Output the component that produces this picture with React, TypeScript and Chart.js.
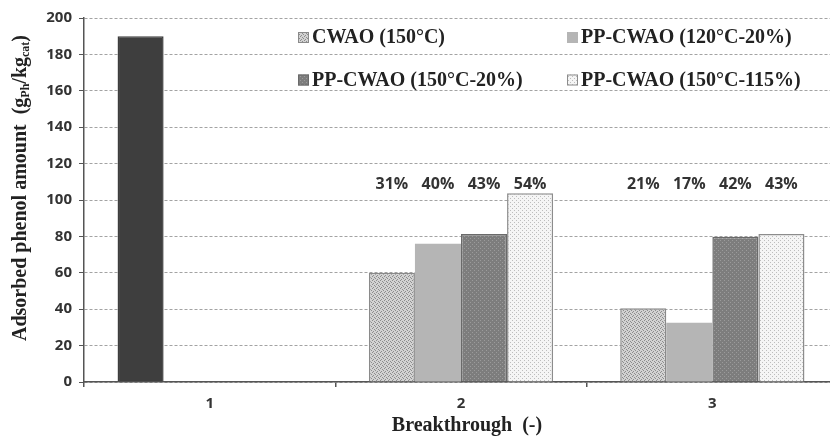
import React, { useEffect, useRef } from "react";
import { Chart, registerables } from "chart.js";

Chart.register(...registerables);

const categories = ["1", "2", "3"];
const seriesNames = [
  "CWAO (150°C)",
  "PP-CWAO (120°C-20%)",
  "PP-CWAO (150°C-20%)",
  "PP-CWAO (150°C-115%)",
];
const cwao = [190, 60, 40.5];
const pp120_20 = [null, 76, 32.6];
const pp150_20 = [null, 81.3, 79.8];
const pp150_115 = [null, 103.7, 81.3];
const pctCwao = [null, "31%", "21%"];
const pctPp120_20 = [null, "40%", "17%"];
const pctPp150_20 = [null, "43%", "42%"];
const pctPp150_115 = [null, "54%", "43%"];
const yTicksMin = 0;
const yTicksMax = 200;
const yTicksStep = 20;

const SANS = '"Open Sans", "DejaVu Sans", sans-serif';
const SERIF = '"Liberation Serif", "DejaVu Serif", serif';

function makePattern(bg: string, dot: string, size: number, dots: number[][]) {
  const c = document.createElement("canvas");
  c.width = size;
  c.height = size;
  const g = c.getContext("2d")!;
  g.fillStyle = bg;
  g.fillRect(0, 0, size, size);
  g.fillStyle = dot;
  dots.forEach(([x, y]) => g.fillRect(x, y, 1, 1));
  return g.createPattern(c, "repeat")!;
}

export default function App() {
  const ref = useRef<HTMLCanvasElement | null>(null);

  useEffect(() => {
    const canvas = ref.current!;
    const pCwao = makePattern("#d2d2d2", "#8c8c8c", 4, [[0, 0], [2, 1], [1, 3], [3, 2]]);
    const pLight = "#b5b5b5";
    const pDark = makePattern("#7d7d7d", "#9b9b9b", 4, [[0, 0], [2, 2]]);
    const pDots = makePattern("#f5f5f5", "#bdbdbd", 4, [[0, 0], [2, 2]]);
    const DARK = "#3e3e3e";

    const fills = [pCwao, pLight, pDark, pDots];
    const borders = ["#8a8a8a", "rgba(0,0,0,0)", "#6a6a6a", "#8c8c8c"];
    const pctLabels = [pctCwao, pctPp120_20, pctPp150_20, pctPp150_115];

    const datasets = [
      {
        label: seriesNames[0],
        data: cwao,
        backgroundColor: [DARK, pCwao, pCwao],
        borderColor: [DARK, "#8a8a8a", "#8a8a8a"],
        borderWidth: 1.5,
      },
      { label: seriesNames[1], data: pp120_20, backgroundColor: pLight, borderColor: borders[1], borderWidth: 0 },
      { label: seriesNames[2], data: pp150_20, backgroundColor: pDark, borderColor: borders[2], borderWidth: 1.5 },
      { label: seriesNames[3], data: pp150_115, backgroundColor: pDots, borderColor: borders[3], borderWidth: 1.5 },
    ];

    const overlay = {
      id: "overlay",
      afterDatasetsDraw(chart: any) {
        const ctx = chart.ctx;
        const ys = chart.scales.y;
        // percentage labels
        ctx.save();
        ctx.font = `bold 16px ${SANS}`;
        ctx.fillStyle = "#333";
        ctx.textAlign = "center";
        ctx.textBaseline = "middle";
        const labelY = ys.getPixelForValue(108.8);
        pctLabels.forEach((arr, i) => {
          const meta = chart.getDatasetMeta(i);
          arr.forEach((t, j) => {
            if (t == null) return;
            ctx.fillText(t, meta.data[j].x, labelY);
          });
        });
        ctx.restore();

        // legend
        ctx.save();
        const colX = [298, 567];
        const rowY = [37, 79.5];
        ctx.font = `bold 20px ${SERIF}`;
        ctx.textBaseline = "middle";
        ctx.textAlign = "left";
        seriesNames.forEach((name, i) => {
          const x = colX[i % 2];
          const y = rowY[Math.floor(i / 2)];
          ctx.fillStyle = fills[i] as any;
          ctx.fillRect(x, y - 5, 11, 11);
          if (i !== 1) {
            ctx.strokeStyle = borders[i];
            ctx.lineWidth = 1;
            ctx.strokeRect(x + 0.5, y - 4.5, 10, 10);
          }
          ctx.fillStyle = "#222";
          ctx.fillText(name, x + 14, y + 1);
        });
        ctx.restore();

        // y title with subscripts
        ctx.save();
        ctx.translate(21, 188);
        ctx.rotate(-Math.PI / 2);
        const big = `bold 20px ${SERIF}`;
        const small = `bold 12px ${SERIF}`;
        const parts: [string, string, number][] = [
          ["Adsorbed phenol amount  (g", big, 0],
          ["Ph", small, 5],
          ["/kg", big, 0],
          ["cat", small, 5],
          [")", big, 0],
        ];
        let total = 0;
        parts.forEach(([t, f]) => {
          ctx.font = f;
          total += ctx.measureText(t).width;
        });
        let x = -total / 2;
        ctx.fillStyle = "#222";
        ctx.textBaseline = "middle";
        ctx.textAlign = "left";
        parts.forEach(([t, f, dy]) => {
          ctx.font = f;
          ctx.fillText(t, x, dy);
          x += ctx.measureText(t).width;
        });
        ctx.restore();

        // x title
        ctx.save();
        ctx.font = `bold 20px ${SERIF}`;
        ctx.fillStyle = "#222";
        ctx.textAlign = "center";
        ctx.textBaseline = "middle";
        ctx.fillText("Breakthrough  (-)", 467, 426);
        ctx.restore();
      },
    };

    const chart = new Chart(canvas, {
      type: "bar",
      data: { labels: categories, datasets: datasets as any },
      options: {
        responsive: false,
        animation: false,
        events: [],
        layout: { padding: { left: 0, right: 8, top: 18, bottom: 0 } },
        datasets: { bar: { categoryPercentage: 0.733, barPercentage: 1 } },
        plugins: { legend: { display: false }, tooltip: { enabled: false } },
        scales: {
          x: {
            grid: {
              display: true,
              drawOnChartArea: false,
              drawTicks: true,
              tickLength: 5,
              color: "#555",
              lineWidth: 1.5,
            },
            border: { color: "#555", width: 1.5 },
            ticks: {
              font: { family: SANS, weight: "bold", size: 15 },
              color: "#333",
              padding: 8,
            },
            afterFit: (s: any) => {
              s.height = 54;
            },
          },
          y: {
            min: yTicksMin,
            max: yTicksMax,
            ticks: {
              stepSize: yTicksStep,
              font: { family: SANS, weight: "bold", size: 15 },
              color: "#333",
              padding: 7,
            },
            grid: {
              color: "#a3a3a3",
              lineWidth: 1,
              tickColor: "#555",
              tickLength: 5,
              tickBorderDash: [],
            },
            border: { color: "#555", width: 1.5, dash: [3, 2] },
            afterFit: (s: any) => {
              s.width = 84;
            },
          },
        },
      },
      plugins: [overlay],
    });
    return () => chart.destroy();
  }, []);

  return (
    <div
      style={{
        position: "fixed",
        left: 0,
        top: 0,
        width: 830,
        height: 436,
        overflow: "hidden",
        background: "#fff",
      }}
    >
      <canvas ref={ref} width={846} height={436} style={{ display: "block" }} />
    </div>
  );
}
